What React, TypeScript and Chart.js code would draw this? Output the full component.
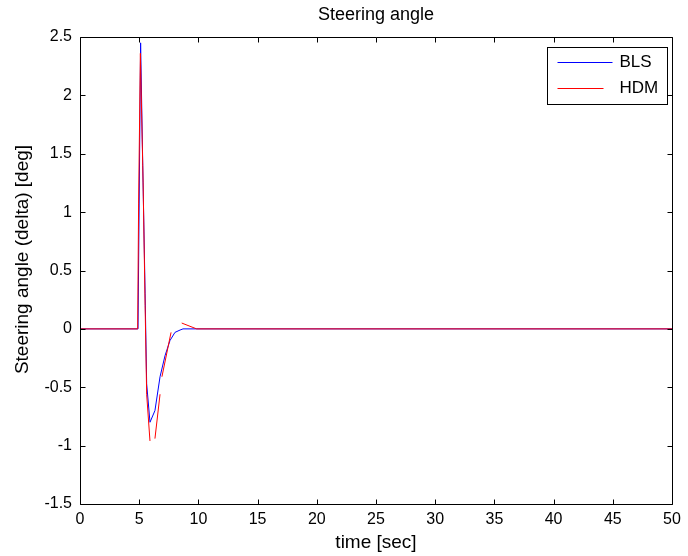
import React, { useEffect, useRef } from "react";
import { Chart, registerables } from "chart.js";

Chart.register(...registerables);

const chartTitle = "Steering angle";
const xAxisTitle = "time [sec]";
const yAxisTitle = "Steering angle (delta) [deg]";
const seriesNames = ["BLS", "HDM"];
const seriesColors = ["#0000ff", "#ff0000"];

const xTicks = [0, 5, 10, 15, 20, 25, 30, 35, 40, 45, 50];
const yTicks = [-1.5, -1, -0.5, 0, 0.5, 1, 1.5, 2, 2.5];

const timeBLS = [0, 4.9, 5.12, 5.3, 5.5, 5.63, 5.91, 6.33, 6.76, 7.18, 7.6, 8.02, 8.45, 8.7, 50];
const angleBLS = [0, 0, 2.45, 1.4, 0.3, -0.47, -0.8, -0.7, -0.41, -0.23, -0.1, -0.03, -0.01, 0, 0];

const timeHDM = [0, 4.87, 4.95, 5.1, 5.33, 5.5, 5.63, 5.91, 6.1, 6.33, 6.76, 6.85, 6.92, 7.69, 8.1, 8.59, 9.85, 50];
const angleHDM = [0, 0, 1.07, 2.36, 1.25, 0.2, -0.56, -0.96, null, -0.94, -0.56, null, -0.41, -0.03, null, 0.05, 0, 0];

const FONT = "'Liberation Sans', Arial, sans-serif";

const frame = {
  id: "frame",
  afterDatasetsDraw(chart: any) {
    const { ctx, chartArea } = chart;
    const { left, right, top, bottom } = chartArea;
    const xs = chart.scales.x;
    const ys = chart.scales.y;
    ctx.save();
    ctx.strokeStyle = "#000";
    ctx.lineWidth = 1;
    const L = Math.round(left) + 0.5;
    const R = Math.round(right) + 0.5;
    const T = Math.round(top) + 0.5;
    const B = Math.round(bottom) + 0.5;
    ctx.beginPath();
    ctx.rect(L, T, R - L, B - T);
    const tl = 5;
    xTicks.forEach((v) => {
      const px = Math.round(xs.getPixelForValue(v)) + 0.5;
      ctx.moveTo(px, B);
      ctx.lineTo(px, B - tl);
      ctx.moveTo(px, T);
      ctx.lineTo(px, T + tl);
    });
    yTicks.forEach((v) => {
      const py = Math.round(ys.getPixelForValue(v)) + 0.5;
      ctx.moveTo(L, py);
      ctx.lineTo(L + tl, py);
      ctx.moveTo(R, py);
      ctx.lineTo(R - tl, py);
    });
    ctx.stroke();

    // y axis title
    ctx.save();
    ctx.translate(23, (top + bottom) / 2 - 11);
    ctx.rotate(-Math.PI / 2);
    ctx.fillStyle = "#000";
    ctx.font = `19px ${FONT}`;
    ctx.textAlign = "center";
    ctx.textBaseline = "middle";
    ctx.fillText(yAxisTitle, 0, 0);
    ctx.restore();

    // legend
    const bw = 120;
    const bh = 57;
    const bx = Math.round(right - 5 - bw) + 0.5;
    const by = Math.round(top + 10) + 0.5;
    ctx.fillStyle = "#fff";
    ctx.fillRect(bx, by, bw, bh);
    ctx.strokeStyle = "#000";
    ctx.strokeRect(bx, by, bw, bh);
    const rows = [
      { name: seriesNames[0], color: seriesColors[0], y: by + 14, len: 55 },
      { name: seriesNames[1], color: seriesColors[1], y: by + 40, len: 46 },
    ];
    ctx.font = `17px ${FONT}`;
    ctx.textBaseline = "middle";
    ctx.textAlign = "left";
    rows.forEach((r) => {
      ctx.strokeStyle = r.color;
      ctx.beginPath();
      ctx.moveTo(bx + 10, Math.round(r.y) + 0.5);
      ctx.lineTo(bx + 10 + r.len, Math.round(r.y) + 0.5);
      ctx.stroke();
      ctx.fillStyle = "#000";
      ctx.fillText(r.name, bx + 72, r.y + 1);
    });
    ctx.restore();
  },
};

export default function App() {
  const ref = useRef<HTMLCanvasElement | null>(null);
  useEffect(() => {
    if (!ref.current) return;
    const toPts = (xs: number[], ys: (number | null)[]) => xs.map((x, i) => ({ x, y: ys[i] }));
    const chart = new Chart(ref.current, {
      type: "line",
      data: {
        datasets: [
          {
            label: seriesNames[0],
            data: toPts(timeBLS, angleBLS) as any,
            borderColor: seriesColors[0],
            borderWidth: 1,
            pointRadius: 0,
            tension: 0,
            order: 1,
          },
          {
            label: seriesNames[1],
            data: toPts(timeHDM, angleHDM) as any,
            borderColor: seriesColors[1],
            borderWidth: 1,
            pointRadius: 0,
            tension: 0,
            spanGaps: false,
            order: 0,
          },
        ],
      },
      options: {
        animation: false,
        responsive: false,
        devicePixelRatio: 1,
        layout: { padding: { left: 0, right: 16, top: 0, bottom: 0 } },
        plugins: {
          legend: { display: false },
          tooltip: { enabled: false },
          title: {
            display: true,
            fullSize: false,
            text: chartTitle,
            color: "#000",
            font: { family: FONT, size: 18, weight: "normal" },
            padding: { top: 4, bottom: 11.4 },
          },
        },
        scales: {
          x: {
            type: "linear",
            min: 0,
            max: 50,
            afterBuildTicks: (s: any) => {
              s.ticks = xTicks.map((v) => ({ value: v }));
            },
            afterFit: (s: any) => {
              s.height = 52;
            },
            grid: { display: false, drawTicks: false },
            border: { display: false },
            ticks: {
              color: "#000",
              font: { family: FONT, size: 16 },
              padding: 6,
              maxRotation: 0,
              autoSkip: false,
              callback: (v: any) => String(v),
            },
            title: {
              display: true,
              text: xAxisTitle,
              color: "#000",
              font: { family: FONT, size: 19 },
              padding: { top: 0, bottom: 2 },
            },
          },
          y: {
            type: "linear",
            min: -1.5,
            max: 2.5,
            afterBuildTicks: (s: any) => {
              s.ticks = yTicks.map((v) => ({ value: v }));
            },
            afterFit: (s: any) => {
              s.width = 80;
            },
            grid: { display: false, drawTicks: false },
            border: { display: false },
            ticks: {
              color: "#000",
              font: { family: FONT, size: 16 },
              padding: 8,
              autoSkip: false,
              callback: (v: any) => String(v),
            },
            title: { display: false },
          },
        },
      },
      plugins: [frame],
    });
    return () => chart.destroy();
  }, []);
  return (
    <div style={{ position: "fixed", left: 0, top: 0, width: 688, height: 556, background: "#fff" }}>
      <canvas ref={ref} width={688} height={556} style={{ display: "block", width: 688, height: 556 }} />
    </div>
  );
}
